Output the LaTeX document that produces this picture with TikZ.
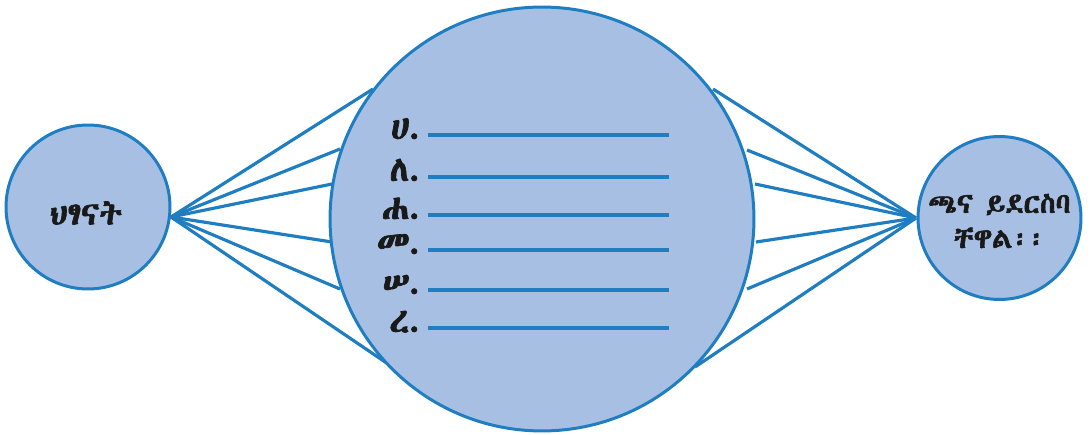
\documentclass[tikz,border=0pt]{standalone}
\usepackage{fontspec}
\IfFontExistsTF{Abyssinica SIL}{\newfontfamily\ethfont[FakeBold=2]{Abyssinica SIL}}{%
 \IfFontExistsTF{Noto Sans Ethiopic}{\newfontfamily\ethfont[FakeBold=1.5]{Noto Sans Ethiopic}}{%
  \IfFontExistsTF{Noto Serif Ethiopic}{\newfontfamily\ethfont[FakeBold=1.5]{Noto Serif Ethiopic}}{%
   \IfFontExistsTF{FreeSerif}{\newfontfamily\ethfont[FakeBold=2]{FreeSerif}}{%
    \newfontfamily\ethfont{DejaVu Sans}}}}}
\definecolor{cfill}{HTML}{A7BFE3}
\definecolor{cline}{HTML}{1F7DC1}
\begin{document}
\begin{tikzpicture}[x=0.02cm,y=-0.02cm,
  bub/.style={circle,draw=cline,fill=cfill,line width=1.7pt,inner sep=0pt},
  conn/.style={draw=cline,line width=1.8pt},
  blank/.style={draw=cline,line width=2pt},
  lbl/.style={font=\ethfont\fontsize{20}{20}\selectfont,anchor=base east,inner sep=0pt,text=black!90}]
\useasboundingbox (0,0) rectangle (1091,435);
% peripheral line endpoints on big circle
\coordinate (L1) at (373,89);
\coordinate (L2) at (340,149);
\coordinate (L3) at (332,184);
\coordinate (L4) at (332,242);
\coordinate (L5) at (340,289);
\coordinate (L6) at (397,370);
\coordinate (R1) at (713,89);
\coordinate (R2) at (747,150);
\coordinate (R3) at (755,184);
\coordinate (R4) at (756,242);
\coordinate (R5) at (747,289);
\coordinate (R6) at (695,367);
\coordinate (LC) at (171,217);
\coordinate (RC) at (916,218);
\foreach \i in {1,...,6}{\draw[conn] (LC) -- (L\i); \draw[conn] (RC) -- (R\i);}
\node[bub,minimum size=3.28cm] (left) at (88,207) {};
\node[bub,minimum size=8.48cm] (mid) at (542,219) {};
\node[bub,minimum size=3.26cm] (right) at (999.5,218) {};
\node[font=\ethfont\fontsize{18}{18}\selectfont,text=black!90] (lt) at (86,213) {ህፃናት};
\node[font=\ethfont\fontsize{16}{20}\selectfont,align=center,text=black!90] (rt) at (999.5,221) {ጫና ይደርስባ\\ቸዋል፡፡};
% list
\foreach \y/\t [count=\k] in {135/ሀ,177/ለ,215/ሐ,250/መ,290/ሠ,328/ረ}{
  \coordinate (a\k) at (428,\y);
  \coordinate (b\k) at (669,\y);
  \draw[blank] (a\k) -- (b\k);
  \node[lbl] (n\k) at (421,\y+4) {\t.};
}
\end{tikzpicture}
\end{document}
